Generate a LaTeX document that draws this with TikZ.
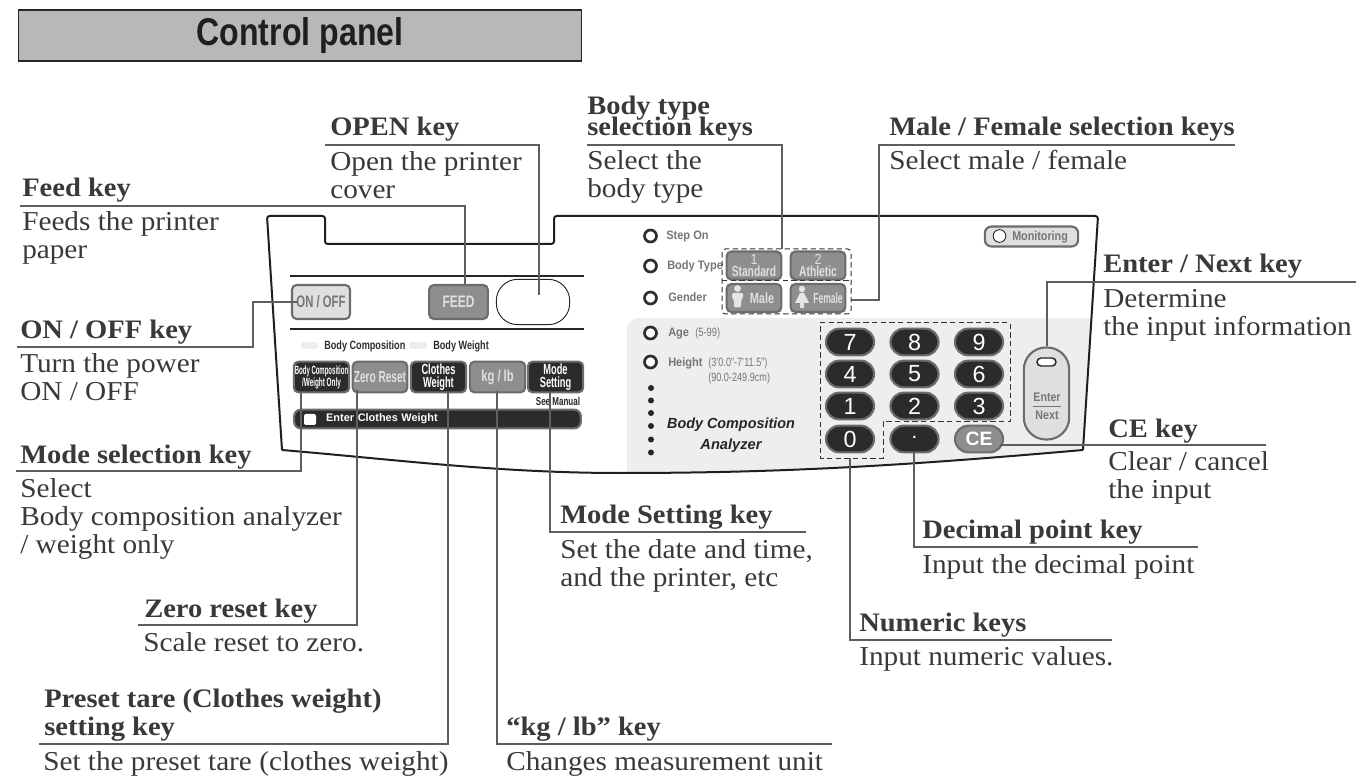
\documentclass[tikz,border=0pt]{standalone}
\usepackage{graphicx}
\usepackage{fontspec}
\setmainfont[FakeStretch=1.07]{Liberation Serif}
\setsansfont{Liberation Sans}
\definecolor{inkgray}{HTML}{3A3838}
\definecolor{leadgray}{HTML}{5E5E5E}
\definecolor{keydark}{HTML}{2C2A2A}
\definecolor{keyedge}{HTML}{6C6C6C}
\definecolor{keymid}{HTML}{8E8E8E}
\definecolor{keylight}{HTML}{DFDFDF}
\definecolor{panelshade}{HTML}{EFEEED}
\definecolor{titlegray}{HTML}{B6B8BA}
\definecolor{capgray}{HTML}{767676}
\def\squeezed#1#2{\scalebox{#1}[1]{#2}}
\tikzset{
	headtext/.style={anchor=base west, inner sep=0, text=inkgray, font=\fontsize{20}{21}\selectfont\bfseries},
	bodytext/.style={anchor=base west, inner sep=0, text=inkgray, font=\fontsize{20.5}{22}\selectfont},
	leader/.style={draw=leadgray, line width=0.8pt},
	panelline/.style={draw=black!88, line width=1.5pt, rounded corners=2pt},
	keyshape/.style={rectangle, draw=keyedge, line width=1.6pt, inner sep=0, align=center, rounded corners=3.5pt, font=\sffamily\bfseries},
	darkkey/.style={keyshape, fill=keydark, text=white},
	midkey/.style={keyshape, fill=keymid, text=white!88!black},
	lightkey/.style={keyshape, fill=keylight, text=capgray},
	numkey/.style={darkkey, minimum width=36pt, minimum height=20pt, rounded corners=10pt, font=\sffamily\fontsize{17.5}{18}\selectfont},
	led/.style={circle, draw=black!82, fill=white, line width=2pt, inner sep=0, minimum size=9pt},
	captext/.style={anchor=base west, inner sep=0, text=capgray, font=\sffamily\bfseries\fontsize{9.2}{10}\selectfont},
	capthin/.style={anchor=base west, inner sep=0, text=capgray, font=\sffamily\fontsize{9}{10}\selectfont},
	pill/.style={fill=black!7, rounded corners=2pt},
	boxdash/.style={draw=black!80, line width=0.75pt, dash pattern=on 4pt off 2.5pt},
}
\begin{document}
\begin{tikzpicture}[x=0.75pt, y=-0.75pt]
	%%%%% START %%%%%
	\useasboundingbox (0, 0) rectangle (1360, 780);

	% title bar
	\node[rectangle, draw=black!85, fill=titlegray, line width=1.2pt, minimum width=422pt, minimum height=38pt, inner sep=0, text=black!88, font=\sffamily\bfseries\fontsize{29}{30}\selectfont] (title) at (300, 35.5) {\raisebox{-1.5pt}{\squeezed{0.83}{Control panel}}};

	% panel body
	\fill[panelshade] (627, 473) -- (627, 330) .. controls (627, 322) and (632, 318) .. (640, 318) -- (1091.5, 318) -- (1083, 450) .. controls (900, 466) and (780, 473) .. (627, 473);
	\draw[panelline] (282, 450) -- (267, 216) -- (325, 216) -- (325, 244) -- (554, 244) -- (554, 216) -- (1098, 216) -- (1083, 450);
	\draw[panelline, rounded corners=0pt] (1083, 450) .. controls (900, 466) and (780, 473) .. (620, 473) .. controls (500, 473) and (400, 460) .. (282, 450);

	\draw[line width=1.2pt, black!85] (290, 276) -- (584, 276);
	\draw[line width=1.2pt, black!85] (290, 329) -- (584, 329);

	% upper keys
	\node[lightkey, minimum width=43.5pt, minimum height=25.5pt, font=\sffamily\bfseries\fontsize{12.5}{13}\selectfont] (keypower) at (321, 302) {\squeezed{0.68}{ON / OFF}};
	\node[midkey, minimum width=44pt, minimum height=25.5pt, font=\sffamily\bfseries\fontsize{12.5}{13}\selectfont] (keyfeed) at (458.5, 302) {\squeezed{0.72}{FEED}};
	\node[rectangle, draw=black!85, fill=white, line width=0.7pt, minimum width=55pt, minimum height=34pt, rounded corners=16pt] (keyopen) at (533, 302) {};

	% indicator row
	\fill[pill] (301, 342) rectangle (318, 349);
	\fill[pill] (409, 342) rectangle (427, 349);
	\node[anchor=base west, inner sep=0, text=black!82, font=\sffamily\bfseries\fontsize{9}{10}\selectfont] (capcomp) at (324, 349.5) {\squeezed{0.76}{Body Composition}};
	\node[anchor=base west, inner sep=0, text=black!82, font=\sffamily\bfseries\fontsize{9}{10}\selectfont] (capweight) at (433, 349.5) {\squeezed{0.76}{Body Weight}};

	% mode keys
	\node[darkkey, minimum width=41.5pt, minimum height=23pt, font=\sffamily\bfseries\fontsize{9}{9}\selectfont] (keycomp) at (321.5, 377) {\squeezed{0.5}{Body Composition}\\\squeezed{0.53}{/Weight Only}};
	\node[midkey, minimum width=41pt, minimum height=23pt, font=\sffamily\bfseries\fontsize{12}{13}\selectfont] (keyzero) at (380, 377) {\squeezed{0.63}{Zero Reset}};
	\node[darkkey, minimum width=41.5pt, minimum height=23pt, font=\sffamily\bfseries\fontsize{11}{9.5}\selectfont] (keycloth) at (438.5, 377) {\squeezed{0.63}{Clothes}\\\squeezed{0.63}{Weight}};
	\node[midkey, minimum width=41.5pt, minimum height=23pt, font=\sffamily\bfseries\fontsize{12}{13}\selectfont] (keyunit) at (497.5, 377) {\squeezed{0.7}{kg / lb}};
	\node[darkkey, minimum width=41.5pt, minimum height=23pt, font=\sffamily\bfseries\fontsize{11}{9.5}\selectfont] (keymode) at (555.5, 377) {\squeezed{0.63}{Mode}\\\squeezed{0.63}{Setting}};
	\node[anchor=center, inner sep=0, text=black!85, font=\sffamily\bfseries\fontsize{8.6}{9}\selectfont] (capmanual) at (558, 401) {\squeezed{0.7}{See Manual}};

	\node[darkkey, minimum width=215pt, minimum height=14pt, rounded corners=5pt, text=white, font=\sffamily\bfseries\fontsize{8.2}{9}\selectfont, text width=215pt, align=left] (barcloth) at (437.5, 419) {\hspace{24pt}\raisebox{-0.8pt}{Enter Clothes Weight}};
	\fill[white, rounded corners=1.5pt] (304, 414) rectangle (316, 425);

	% status column
	\node[led] (ledstep) at (650.5, 236) {};
	\node[led] (ledtype) at (650.5, 266) {};
	\node[led] (ledgender) at (650.5, 298) {};
	\node[led] (ledage) at (650.5, 333) {};
	\node[led] (ledheight) at (650.5, 362) {};
	\node[captext] (capstep) at (666, 240) {\squeezed{0.9}{Step On}};
	\node[captext] (captype) at (667, 270) {\squeezed{0.9}{Body Type}};
	\node[captext] (capgender) at (668, 302) {\squeezed{0.9}{Gender}};
	\node[captext] (capage) at (668, 337) {\squeezed{0.9}{Age}};
	\node[capthin] (caprange) at (695, 337) {\squeezed{0.78}{(5-99)}};
	\node[captext] (capheight) at (668, 367) {\squeezed{0.9}{Height}};
	\node[capthin] (capfeet) at (708, 367) {\squeezed{0.76}{(3'0.0"-7'11.5")}};
	\node[capthin] (capcm) at (708, 382) {\squeezed{0.76}{(90.0-249.9cm)}};
	\fill[black!85] (651, 388) circle (3);
	\fill[black!85] (651, 400.5) circle (3);
	\fill[black!85] (651, 413) circle (3);
	\fill[black!85] (651, 426) circle (3);
	\fill[black!85] (651, 439.5) circle (3);
	\fill[black!85] (651, 452.5) circle (3);
	\node[inner sep=0, text=black!85, font=\sffamily\bfseries\itshape\fontsize{11}{12}\selectfont] (brandtop) at (731, 424.5) {\squeezed{0.98}{Body Composition}};
	\node[inner sep=0, text=black!85, font=\sffamily\bfseries\itshape\fontsize{11}{12}\selectfont] (brandlow) at (731, 445.5) {Analyzer};

	% body type and gender keys
	\node[midkey, minimum width=41pt, minimum height=21pt, font=\sffamily\bfseries\fontsize{11}{9}\selectfont] (keyone) at (754, 265.5) {\mdseries\squeezed{0.85}{1}\\\squeezed{0.7}{Standard}};
	\node[midkey, minimum width=41pt, minimum height=21pt, font=\sffamily\bfseries\fontsize{11}{9}\selectfont] (keytwo) at (818, 265.5) {\mdseries\squeezed{0.85}{2}\\\squeezed{0.7}{Athletic}};
	\node[midkey, minimum width=41pt, minimum height=21pt, font=\sffamily\bfseries\fontsize{11}{12}\selectfont] (keymale) at (754, 298) {\hspace{12pt}\squeezed{0.75}{Male}};
	\node[midkey, minimum width=41pt, minimum height=21pt, font=\sffamily\bfseries\fontsize{11}{12}\selectfont] (keyfemale) at (818, 298) {\hspace{15pt}\squeezed{0.58}{Female}};
	\fill[white!90!black] (737.5, 288.5) circle (3.4);
	\fill[white!90!black, rounded corners=1pt] (732, 293) -- (743, 293) -- (743, 298) -- (741, 300) -- (741, 307.5) -- (734, 307.5) -- (734, 300) -- (732, 298) -- cycle;
	\fill[white!90!black] (802, 289) circle (3.2);
	\fill[white!90!black] (800, 293) -- (804, 293) -- (809, 303) -- (804, 303) -- (804, 308) -- (800, 308) -- (800, 303) -- (795, 303) -- cycle;
	\draw[boxdash, rounded corners=2.5pt] (722, 249) rectangle (851, 314);
	\draw[boxdash] (722, 281) -- (851, 281);

	% monitoring lamp
	\node[lightkey, minimum width=70pt, minimum height=15pt, rounded corners=5pt] (keymonitor) at (1031.5, 236.5) {};
	\node[circle, draw=black!82, fill=white, line width=0.7pt, inner sep=0, minimum size=9.5pt] (ledmonitor) at (999.5, 236) {};
	\node[captext, font=\sffamily\bfseries\fontsize{9.6}{10}\selectfont] (capmonitor) at (1012, 240.5) {\squeezed{0.84}{Monitoring}};

	% numeric keys
	\node[numkey] (keyseven) at (850, 342) {7};
	\node[numkey] (keyeight) at (914.5, 342) {8};
	\node[numkey] (keynine) at (979, 342) {9};
	\node[numkey] (keyfour) at (850, 374) {4};
	\node[numkey] (keyfive) at (914.5, 374) {5};
	\node[numkey] (keysix) at (979, 374) {6};
	\node[numkey] (keyonepad) at (850, 406) {1};
	\node[numkey] (keytwopad) at (914.5, 406) {2};
	\node[numkey] (keythree) at (979, 406) {3};
	\node[numkey] (keyzeropad) at (850, 439) {0};
	\node[numkey] (keypoint) at (914.5, 439) {\raisebox{3pt}{\fontsize{11}{12}\selectfont\textbf{.}}};
	\node[numkey, fill=keymid, font=\sffamily\bfseries\fontsize{14.5}{15}\selectfont] (keyce) at (979, 439) {CE};
	\draw[boxdash] (820, 323) -- (1010, 323) -- (1010, 422) -- (883, 422) -- (883, 458) -- (820, 458) -- cycle;

	% enter key
	\node[lightkey, minimum width=34pt, minimum height=69pt, rounded corners=16.5pt] (keyenter) at (1046.5, 393.5) {};
	\draw[draw=black!85, fill=white, line width=1.1pt, rounded corners=3pt] (1037, 358) rectangle (1056, 366);
	\node[inner sep=0, text=capgray, font=\sffamily\bfseries\fontsize{9.4}{10}\selectfont] (capenter) at (1047, 397) {\squeezed{0.85}{Enter}};
	\node[inner sep=0, text=capgray, font=\sffamily\bfseries\fontsize{9.4}{10}\selectfont] (capnext) at (1047, 415) {\squeezed{0.85}{Next}};
	\draw[capgray, line width=0.7pt] (1033, 406) -- (1061, 406);

	% callout texts, upper side
	\node[headtext] (feedhead) at (22, 197) {Feed key};
	\node[bodytext] (feedtext) at (22, 231) {Feeds the printer};
	\node[bodytext] (feedtextb) at (22, 259) {paper};
	\node[headtext] (openhead) at (330, 136) {OPEN key};
	\node[bodytext] (opentext) at (330, 171) {Open the printer};
	\node[bodytext] (opentextb) at (330, 199) {cover};
	\node[headtext] (typehead) at (587, 115) {Body type};
	\node[headtext] (typeheadb) at (587, 136) {selection keys};
	\node[bodytext] (typetext) at (587, 170) {Select the};
	\node[bodytext] (typetextb) at (587, 198) {body type};
	\node[headtext] (sexhead) at (889, 136) {Male / Female selection keys};
	\node[bodytext] (sextext) at (889, 170) {Select male / female};
	\node[headtext] (enterhead) at (1103, 273) {Enter / Next key};
	\node[bodytext] (entertext) at (1103, 308) {Determine};
	\node[bodytext] (entertextb) at (1103, 336) {the input information};
	\node[headtext] (cehead) at (1108, 437) {CE key};
	\node[bodytext] (cetext) at (1108, 470) {Clear / cancel};
	\node[bodytext] (cetextb) at (1108, 498) {the input};

	% callout texts, lower side
	\node[headtext] (powerhead) at (20, 339) {ON / OFF key};
	\node[bodytext] (powertext) at (20, 373) {Turn the power};
	\node[bodytext] (powertextb) at (20, 401) {ON / OFF};
	\node[headtext] (selecthead) at (20, 463) {Mode selection key};
	\node[bodytext] (selecttext) at (20, 497) {Select};
	\node[bodytext] (selecttextb) at (20, 525) {Body composition analyzer};
	\node[bodytext] (selecttextc) at (20, 553) {/ weight only};
	\node[headtext] (zerohead) at (144, 617) {Zero reset key};
	\node[bodytext] (zerotext) at (143, 651) {Scale reset to zero.};
	\node[headtext] (tarehead) at (44, 707) {Preset tare (Clothes weight)};
	\node[headtext] (tareheadb) at (44, 735) {setting key};
	\node[bodytext] (taretext) at (43, 770) {Set the preset tare (clothes weight)};
	\node[headtext] (unithead) at (506, 735) {``kg / lb'' key};
	\node[bodytext] (unittext) at (506, 770) {Changes measurement unit};
	\node[headtext] (setuphead) at (560, 523) {Mode Setting key};
	\node[bodytext] (setuptext) at (560, 558) {Set the date and time,};
	\node[bodytext] (setuptextb) at (560, 586) {and the printer, etc};
	\node[headtext] (pointhead) at (922, 538) {Decimal point key};
	\node[bodytext] (pointtext) at (922, 573) {Input the decimal point};
	\node[headtext] (numhead) at (859, 631) {Numeric keys};
	\node[bodytext] (numtext) at (859, 665) {Input numeric values.};

	% leader lines
	\coordinate (feedrule) at (20, 206);
	\coordinate (feedtip) at (465, 284);
	\draw[leader] (feedrule) -| (feedtip);
	\coordinate (openrule) at (325, 145);
	\coordinate (opentip) at (539, 295);
	\draw[leader] (openrule) -| (opentip);
	\coordinate (typerule) at (587, 145);
	\coordinate (typetip) at (782, 249);
	\draw[leader] (typerule) -| (typetip);
	\coordinate (sexrule) at (1235, 145);
	\coordinate (sexbend) at (879, 300);
	\coordinate (sextip) at (851, 300);
	\draw[leader] (sexrule) -| (sexbend) -- (sextip);
	\coordinate (enterrule) at (1356, 282);
	\coordinate (entertip) at (1047, 346);
	\draw[leader] (enterrule) -| (entertip);
	\coordinate (cerule) at (1266, 445);
	\coordinate (cetip) at (1000, 445);
	\draw[leader] (cerule) -- (cetip);
	\coordinate (powerrule) at (17, 347);
	\coordinate (powerbend) at (253, 302);
	\coordinate (powertip) at (297, 302);
	\draw[leader] (powerrule) -| (powerbend) -- (powertip);
	\coordinate (selectrule) at (16, 471);
	\coordinate (selecttip) at (301, 393);
	\draw[leader] (selectrule) -| (selecttip);
	\coordinate (zerorule) at (138, 625);
	\coordinate (zerotip) at (357, 390);
	\draw[leader] (zerorule) -| (zerotip);
	\coordinate (tarerule) at (39, 744);
	\coordinate (taretip) at (448, 392);
	\draw[leader] (tarerule) -| (taretip);
	\coordinate (unitrule) at (832, 744);
	\coordinate (unittip) at (497, 391);
	\draw[leader] (unitrule) -| (unittip);
	\coordinate (setuprule) at (806, 532);
	\coordinate (setuptip) at (550, 392);
	\draw[leader] (setuprule) -| (setuptip);
	\coordinate (pointrule) at (1198, 547);
	\coordinate (pointtip) at (914, 452);
	\draw[leader] (pointrule) -| (pointtip);
	\coordinate (numrule) at (1112, 640);
	\coordinate (numtip) at (850, 458);
	\draw[leader] (numrule) -| (numtip);

	%%%%% END %%%%%
\end{tikzpicture}
\end{document}
